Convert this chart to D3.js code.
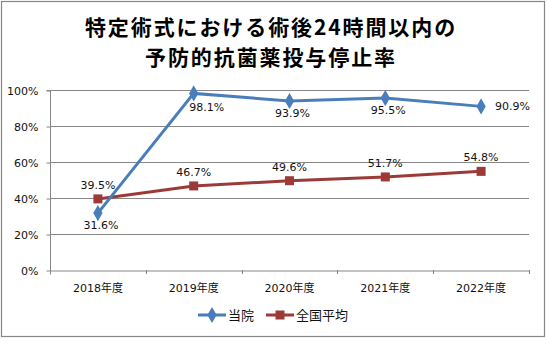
<!DOCTYPE html>
<html><head><meta charset="utf-8">
<script src="https://cdn.jsdelivr.net/npm/d3@7"></script>
<style>body{margin:0;background:#fff}svg{display:block}</style>
</head><body>
<script>
const categories = ["2018年度","2019年度","2020年度","2021年度","2022年度"];
const hospital = [31.6, 98.1, 93.9, 95.5, 90.9];
const national = [39.5, 46.7, 49.6, 51.7, 54.8];
const yTicks = [0, 20, 40, 60, 80, 100];
const seriesNames = ["当院", "全国平均"];
const titleLines = ["特定術式における術後24時間以内の", "予防的抗菌薬投与停止率"];

(function(){
const W = 547, H = 343;
const blue = "#4A7EBB", red = "#9B3A37";
const font = "'DejaVu Sans','Noto Sans CJK JP',sans-serif";
const svg = d3.select("body").append("svg").attr("width", W).attr("height", H);
svg.append("rect").attr("x",1.5).attr("y",1.5).attr("width",543).attr("height",335)
  .attr("fill","#fff").attr("stroke","#868686").attr("stroke-width",1.2);

svg.selectAll("text.title").data(titleLines).join("text")
  .attr("x", 271).attr("y", (d,i)=>35+i*30).attr("text-anchor","middle")
  .attr("font-family","'Noto Sans CJK JP',sans-serif").attr("font-weight","bold")
  .attr("font-size",21).attr("letter-spacing",1.9).attr("fill","#000").text(d=>d);

const pl = 50, pr = 529, pt = 90, pb = 270;
const x = d3.scaleBand().domain(categories).range([pl, pr]);
const y = d3.scaleLinear().domain([0,100]).range([pb, pt]);

svg.append("g").selectAll("line").data(yTicks.filter(t=>t>0)).join("line")
  .attr("x1",pl).attr("x2",pr).attr("y1",d=>y(d)+0.5).attr("y2",d=>y(d)+0.5)
  .attr("stroke","#868686").attr("stroke-width",1);

const yAxis = svg.append("g").attr("transform",`translate(${pl+0.5},0.5)`)
  .call(d3.axisLeft(y).tickValues(yTicks).tickFormat(d=>d+"%").tickSize(4).tickPadding(8));
const xAxis = svg.append("g").attr("transform",`translate(0.5,${pb+0.5})`)
  .call(d3.axisBottom(x).tickValues([]).tickSizeOuter(0));
const bounds = d3.range(categories.length+1).map(i=>pl + i*x.step());
svg.append("g").selectAll("line").data(bounds).join("line")
  .attr("x1",d=>Math.round(d)+0.5).attr("x2",d=>Math.round(d)+0.5)
  .attr("y1",pb).attr("y2",pb+4).attr("stroke","#868686");
svg.append("g").selectAll("text").data(categories).join("text")
  .attr("x",d=>x(d)+x.bandwidth()/2).attr("y",pb+22).attr("text-anchor","middle")
  .attr("font-family",font).attr("font-size",11).attr("fill","#111").text(d=>d);
[yAxis,xAxis].forEach(g=>{
  g.selectAll("path.domain").attr("stroke","#868686");
  g.selectAll(".tick line").attr("stroke","#868686");
  g.selectAll("text").attr("font-family",font).attr("font-size",11).attr("fill","#111");
});
yAxis.select("path.domain").attr("d",`M-4,${pt}H0V${pb+4}`);

const cx = d => x(d)+x.bandwidth()/2;
const line = d3.line().x((d,i)=>cx(categories[i])).y(d=>y(d));
svg.append("path").datum(national).attr("d",line).attr("fill","none")
  .attr("stroke",red).attr("stroke-width",3);
svg.append("path").datum(hospital).attr("d",line).attr("fill","none")
  .attr("stroke",blue).attr("stroke-width",3);

const diamond = d3.symbol().type(d3.symbolDiamond).size(75);
svg.append("g").selectAll("rect").data(national).join("rect")
  .attr("x",(d,i)=>cx(categories[i])-4.5).attr("y",d=>y(d)-4.5)
  .attr("width",9).attr("height",9).attr("fill",red);
svg.append("g").selectAll("path").data(hospital).join("path")
  .attr("d",diamond).attr("transform",(d,i)=>`translate(${cx(categories[i])},${y(d)})`)
  .attr("fill",blue);

svg.append("g").selectAll("text").data(national).join("text")
  .attr("x",(d,i)=>cx(categories[i])).attr("y",d=>y(d)-10)
  .attr("text-anchor","middle").attr("font-family",font).attr("font-size",11).attr("fill","#111")
  .text(d=>d.toFixed(1)+"%");
const last = hospital.length-1;
svg.append("g").selectAll("text").data(hospital).join("text")
  .attr("x",(d,i)=> i===last ? cx(categories[i])+14 : cx(categories[i])+ (i===1?13:3))
  .attr("y",(d,i)=> i===last ? y(d)+4 : y(d)+(i===1?18:16))
  .attr("text-anchor",(d,i)=> i===last ? "start":"middle")
  .attr("font-family",font).attr("font-size",11).attr("fill","#111")
  .text(d=>d.toFixed(1)+"%");

const lg = svg.append("g").attr("font-family","'Noto Sans CJK JP',sans-serif").attr("font-size",13);
const items = [{n:seriesNames[0],c:blue,x0:198,t:"d"},{n:seriesNames[1],c:red,x0:266,t:"s"}];
items.forEach(it=>{
  lg.append("line").attr("x1",it.x0).attr("x2",it.x0+28).attr("y1",315).attr("y2",315)
    .attr("stroke",it.c).attr("stroke-width",3);
  if(it.t==="d") lg.append("path").attr("d",diamond).attr("transform",`translate(${it.x0+14},315)`).attr("fill",it.c);
  else lg.append("rect").attr("x",it.x0+9.5).attr("y",310.5).attr("width",9).attr("height",9).attr("fill",it.c);
  lg.append("text").attr("x",it.x0+30).attr("y",320).attr("fill","#111").text(it.n);
});
})();
</script>
</body></html>
